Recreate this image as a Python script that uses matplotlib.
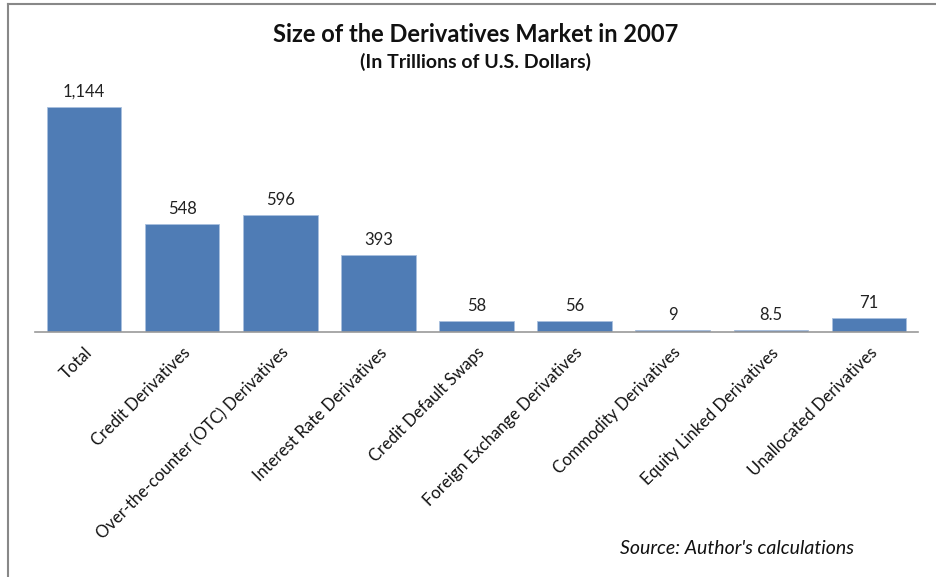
import matplotlib.pyplot as plt
from matplotlib.lines import Line2D

categories = [
    "Total",
    "Credit Derivatives",
    "Over-the-counter (OTC) Derivatives",
    "Interest Rate Derivatives",
    "Credit Default Swaps",
    "Foreign Exchange Derivatives",
    "Commodity Derivatives",
    "Equity Linked Derivatives",
    "Unallocated Derivatives",
]
values = [1144, 548, 596, 393, 58, 56, 9, 8.5, 71]
value_labels = ["1,144", "548", "596", "393", "58", "56", "9", "8.5", "71"]

plt.rcParams["font.family"] = ["Lato", "DejaVu Sans"]

fig = plt.figure(figsize=(9.36, 5.77), dpi=100)
W, H = 936, 577

# axes box in pixels: left 35, right 918, baseline 332, top 85
ax = fig.add_axes([35 / W, 1 - 332 / H, (918 - 35) / W, (332 - 85) / H])
x = list(range(len(categories)))
ax.bar(x, values, width=0.76, color="#4f7cb5", edgecolor="#a9c0de", linewidth=0.6)
ax.set_xlim(-0.5, 8.5)
ax.set_ylim(0, 1256)

for xi, v, lab in zip(x, values, value_labels):
    ax.text(xi, v + 36, lab, ha="center", va="bottom", fontsize=12, color="#222222")

for side in ["top", "right", "left"]:
    ax.spines[side].set_visible(False)
ax.spines["bottom"].set_color("#9a9a9a")
ax.spines["bottom"].set_linewidth(1.2)
ax.set_yticks([])
ax.set_xticks(x)
ax.set_xticklabels(categories, rotation=45, ha="right", rotation_mode="anchor",
                   fontsize=12, color="#111111")
ax.tick_params(axis="x", length=0, pad=9)

fig.text(476 / W, 1 - 35 / H, "Size of the Derivatives Market in 2007",
         ha="center", va="center", fontsize=17, fontweight="bold", color="#111111")
fig.text(476 / W, 1 - 62 / H, "(In Trillions of U.S. Dollars)",
         ha="center", va="center", fontsize=14, fontweight="bold", color="#111111")
fig.text(737 / W, 1 - 548 / H, "Source: Author's calculations",
         ha="center", va="center", fontsize=14, style="italic", color="#111111")

# frame lines along the top and left edge
fig.add_artist(Line2D([8 / W, 1], [1 - 4 / H, 1 - 4 / H], color="#888888", linewidth=1.5))
fig.add_artist(Line2D([8 / W, 8 / W], [0, 1 - 4 / H], color="#888888", linewidth=1.5))

fig.savefig("out.png", dpi=100)
